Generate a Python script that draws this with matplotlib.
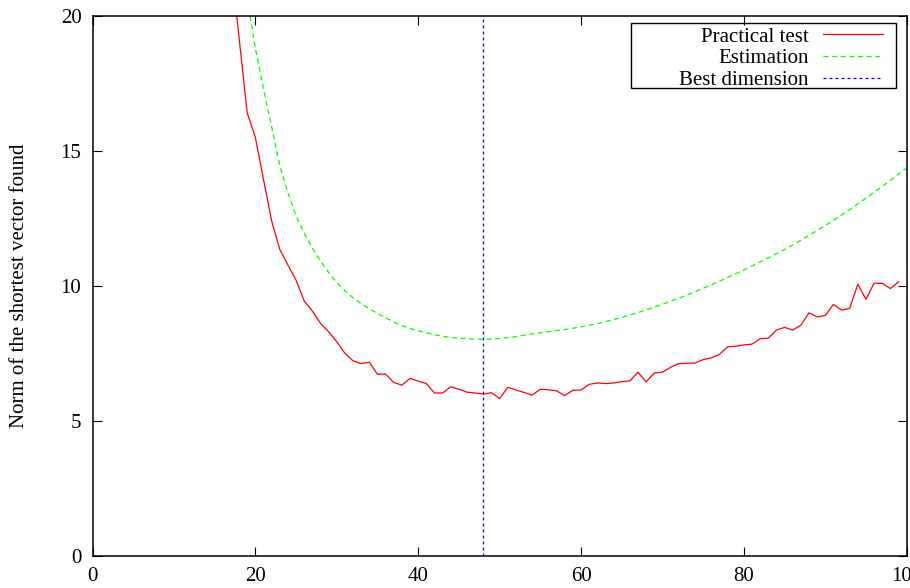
import matplotlib.pyplot as plt
from matplotlib.lines import Line2D
from matplotlib.patches import Rectangle

# lattice dimension vs norm of the shortest vector
dims = list(range(17, 100))
practical = [22.0, 19.2, 16.41, 15.5, 13.95, 12.41, 11.35, 10.77, 10.21, 9.44,
             9.07, 8.61, 8.30, 7.93, 7.50, 7.22, 7.12, 7.17, 6.72, 6.73,
             6.42, 6.32, 6.57, 6.47, 6.38, 6.03, 6.03, 6.26, 6.17, 6.06,
             6.03, 5.99, 6.04, 5.82, 6.24, 6.14, 6.05, 5.95, 6.17, 6.15,
             6.11, 5.93, 6.13, 6.14, 6.35, 6.40, 6.38, 6.40, 6.45, 6.48,
             6.80, 6.44, 6.77, 6.80, 6.98, 7.12, 7.13, 7.14, 7.27, 7.33,
             7.46, 7.74, 7.76, 7.81, 7.84, 8.04, 8.06, 8.36, 8.46, 8.36,
             8.54, 9.00, 8.85, 8.90, 9.31, 9.10, 9.17, 10.06, 9.50, 10.10,
             10.09, 9.90, 10.15]

est_dims = list(range(19, 101))
estimation = [20.7, 18.8, 17.3, 15.9, 14.45, 13.45, 12.6, 11.95, 11.4, 10.92,
              10.5, 10.12, 9.82, 9.56, 9.34, 9.15, 8.98, 8.82, 8.66, 8.53,
              8.42, 8.34, 8.26, 8.19, 8.13, 8.09, 8.06, 8.04, 8.02, 8.02,
              8.03, 8.05, 8.08, 8.12, 8.17, 8.22, 8.26, 8.30, 8.34, 8.38,
              8.43, 8.48, 8.54, 8.60, 8.67, 8.75, 8.83, 8.92, 9.01, 9.11,
              9.21, 9.32, 9.43, 9.54, 9.66, 9.78, 9.91, 10.04, 10.17, 10.31,
              10.45, 10.59, 10.74, 10.89, 11.04, 11.19, 11.35, 11.52, 11.69, 11.87,
              12.05, 12.24, 12.43, 12.63, 12.83, 13.04, 13.25, 13.47, 13.69, 13.91,
              14.14, 14.37]

best_dim = 48

labels = ['Practical test', 'Estimation', 'Best dimension']
styles = [dict(color='#ff0000', lw=0.9, linestyle='-'),
          dict(color='#00ff00', lw=0.9, linestyle=(0, (4, 2.9))),
          dict(color='#0000ff', lw=0.9, linestyle=(0, (2.4, 2.4)))]

plt.rcParams['font.family'] = ['Liberation Serif', 'DejaVu Serif']

fig = plt.figure(figsize=(9.1, 5.88), dpi=100)
ax = fig.add_axes([92.5 / 910, 32.3 / 588, 814.2 / 910, 539.7 / 588])

ax.plot(dims, practical, label=labels[0], **styles[0])
ax.plot(est_dims, estimation, label=labels[1], **styles[1])
ax.axvline(best_dim, label=labels[2], **styles[2])

ax.set_xlim(0, 100)
ax.set_ylim(0, 20)
ax.set_xticks(range(0, 101, 20))
ax.set_yticks(range(0, 21, 5))
ax.tick_params(direction='in', length=6.5, width=0.8, top=True, right=True,
               labelsize=15, pad=8)
for s in ax.spines.values():
    s.set_linewidth(1.1)

ax.set_ylabel('Norm of the shortest vector found', fontsize=15)
ax.yaxis.set_label_coords(-0.078, 0.5)

# gnuplot-like key: right aligned text, sample on the right
ax.add_patch(Rectangle((0.661, 0.866), 0.3255, 0.1205, transform=ax.transAxes,
                       fill=False, ec='black', lw=1.0, zorder=5))
for i, (lab, st) in enumerate(zip(labels, styles)):
    y = 0.9661 - i * 0.0402
    ax.text(0.880, y - 0.0135, lab, transform=ax.transAxes, ha='right',
            va='baseline', fontsize=15, zorder=6)
    ax.add_line(Line2D([0.8968, 0.9705], [y, y], transform=ax.transAxes,
                       zorder=6, **st))

plt.savefig('out.png', dpi=100)
